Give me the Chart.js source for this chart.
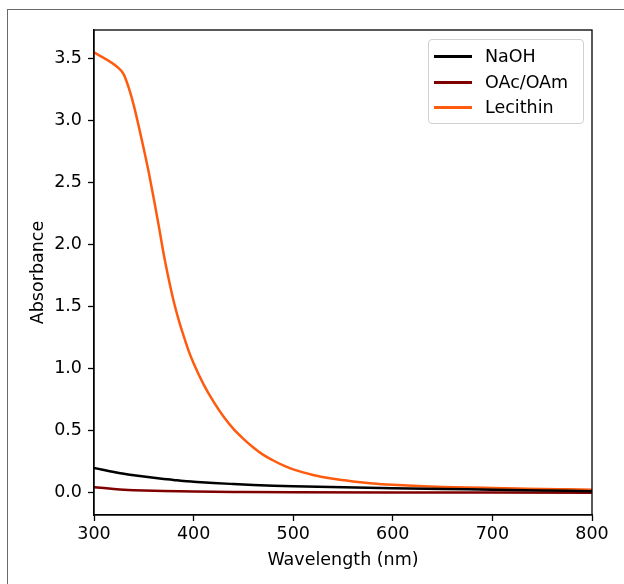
<!DOCTYPE html>
<html>
<head>
<meta charset="utf-8">
<script src="https://cdn.jsdelivr.net/npm/chart.js@4.4.0/dist/chart.umd.min.js"></script>
<style>
  html, body { margin: 0; padding: 0; background: #ffffff; }
  #wrap { position: relative; width: 624px; height: 584px; overflow: hidden; }
  #frame { position: absolute; left: 7px; top: 9px; width: 700px; height: 700px;
    border-left: 1.5px solid #6a6a6a; border-top: 1.5px solid #6a6a6a; }
  #chart { position: absolute; left: 0; top: 0; }
  #legend { position: absolute; left: 428px; top: 39px; width: 154px; height: 83px;
    border: 1px solid #d0d0d0; border-radius: 4px; background: rgba(255,255,255,0.8);
    font-family: "DejaVu Sans", sans-serif; font-size: 17.5px; color: #000; }
  .row { position: absolute; left: 0; height: 22px; width: 150px; }
  .swatch { position: absolute; left: 5px; top: 10px; width: 38px; height: 3px; }
  .lbl { position: absolute; left: 56px; top: 0px; white-space: nowrap; line-height: 22px; }
</style>
</head>
<body>
<div id="wrap">
  <div id="frame"></div>
  <canvas id="chart" width="624" height="584"></canvas>
  <div id="legend"></div>
</div>
<script>
// wavelength (nm) / absorbance
const lecWl = [300, 325, 330, 335, 340, 345, 350, 355, 360, 365, 370, 375, 380, 385, 390, 395, 400,
  410, 420, 430, 440, 450, 460, 470, 480, 490, 500, 520, 540, 560, 580, 600, 625, 650, 675, 700, 725, 750, 775, 800];
const lecAbs = [3.55, 3.42, 3.37, 3.26, 3.12, 2.95, 2.77, 2.58, 2.37, 2.15, 1.92, 1.72, 1.54, 1.39, 1.26, 1.14, 1.04,
  0.87, 0.73, 0.61, 0.51, 0.43, 0.36, 0.30, 0.255, 0.215, 0.183, 0.138, 0.107, 0.086, 0.070, 0.059, 0.049, 0.042, 0.037, 0.033, 0.029, 0.025, 0.022, 0.019];

const naohWl = [300, 310, 320, 330, 340, 350, 360, 370, 380, 390, 400, 420, 440, 460, 480, 500, 550, 600, 650, 700, 750, 800];
const naohAbs = [0.195, 0.178, 0.162, 0.148, 0.136, 0.125, 0.115, 0.106, 0.098, 0.090, 0.084, 0.073, 0.065, 0.058, 0.052, 0.047, 0.038, 0.031, 0.025, 0.019, 0.013, 0.007];

const oacWl = [300, 310, 320, 330, 340, 350, 370, 400, 450, 500, 600, 700, 800];
const oacAbs = [0.040, 0.032, 0.025, 0.019, 0.015, 0.012, 0.008, 0.004, 0.001, -0.001, -0.003, -0.004, -0.005];

const seriesNames = ['NaOH', 'OAc/OAm', 'Lecithin'];
const seriesColors = ['#000000', '#800000', '#ff5b0f'];

const xTicks = [300, 400, 500, 600, 700, 800];
const yTicks = [0, 0.5, 1, 1.5, 2, 2.5, 3, 3.5];

function toPoints(xs, ys) {
  return xs.map((x, i) => ({ x: x, y: ys[i] }));
}

const FONT = { family: 'DejaVu Sans', size: 17.5 };

// black frame round the plot area, drawn over the lines like matplotlib spines
const spines = {
  id: 'spines',
  afterDatasetsDraw(chart) {
    const a = chart.chartArea;
    const ctx = chart.ctx;
    ctx.save();
    ctx.strokeStyle = '#000';
    ctx.lineWidth = 1.3;
    ctx.strokeRect(a.left, a.top, a.right - a.left, a.bottom - a.top);
    ctx.restore();
  }
};

const datasets = [toPoints(naohWl, naohAbs), toPoints(oacWl, oacAbs), toPoints(lecWl, lecAbs)].map((pts, i) => ({
  label: seriesNames[i],
  data: pts,
  borderColor: seriesColors[i],
  borderWidth: 2.5,
  pointRadius: 0,
  fill: false,
  cubicInterpolationMode: 'monotone'
}));

const chart = new Chart(document.getElementById('chart'), {
  type: 'line',
  data: { datasets: datasets },
  options: {
    responsive: false,
    animation: false,
    layout: { padding: { top: 30, right: 32, left: 0, bottom: 0 } },
    plugins: { legend: { display: false }, tooltip: { enabled: false } },
    scales: {
      x: {
        type: 'linear',
        min: 300,
        max: 800,
        afterBuildTicks: (s) => { s.ticks = xTicks.map(v => ({ value: v })); },
        afterFit: (s) => { s.height = 69; },
        grid: { drawOnChartArea: false, drawTicks: true, tickLength: 6, tickColor: '#000', tickWidth: 1.3 },
        border: { color: '#000', width: 1.3 },
        ticks: { color: '#000', font: FONT, padding: 3, maxRotation: 0, callback: (v) => String(v) },
        title: { display: true, text: 'Wavelength (nm)', color: '#000', font: FONT, padding: { top: 0, bottom: 13 } }
      },
      y: {
        type: 'linear',
        min: -0.185,
        max: 3.73,
        afterBuildTicks: (s) => { s.ticks = yTicks.map(v => ({ value: v })); },
        afterFit: (s) => { s.width = 94; },
        grid: { drawOnChartArea: false, drawTicks: true, tickLength: 6, tickColor: '#000', tickWidth: 1.3 },
        border: { color: '#000', width: 1.3 },
        ticks: { color: '#000', font: FONT, padding: 6, callback: (v) => Number(v).toFixed(1) },
        title: { display: true, text: 'Absorbance', color: '#000', font: FONT, padding: { top: 28, bottom: 0 } }
      }
    }
  },
  plugins: [spines]
});

// legend box, built from the datasets
const legend = document.getElementById('legend');
datasets.forEach((ds, i) => {
  const row = document.createElement('div');
  row.className = 'row';
  row.style.top = Math.round(5 + i * 25.5) + 'px';
  row.innerHTML = '<div class="swatch" style="background:' + ds.borderColor + '"></div><div class="lbl">' + ds.label + '</div>';
  legend.appendChild(row);
});
</script>
</body>
</html>
